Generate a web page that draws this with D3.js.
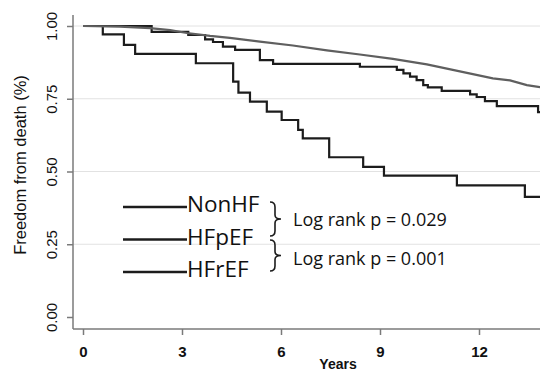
<!DOCTYPE html>
<html>
<head>
<meta charset="utf-8">
<script src="https://cdn.jsdelivr.net/npm/d3@7/dist/d3.min.js"></script>
<style>
  body { margin: 0; background: #fff; }
  svg { display: block; }
</style>
</head>
<body>
<div id="chart"></div>
<script>
// survival curves (years, freedom from death)
const nonhfYears = [0, 1.12, 2.03, 2.64, 3.15, 3.85, 4.45, 5.36, 6.36, 7.39, 8.39, 9.39, 10.42, 11.42, 12.42, 12.94, 13.45, 13.85];
const nonhfSurv  = [1.0, 0.998, 0.993, 0.986, 0.976, 0.966, 0.959, 0.946, 0.933, 0.916, 0.902, 0.887, 0.868, 0.844, 0.820, 0.813, 0.797, 0.790];

const hfpefYears = [0, 2.08, 3.19, 3.70, 3.94, 4.24, 4.61, 5.36, 5.76, 8.39, 9.51, 9.71, 9.91, 10.11, 10.31, 10.45, 10.87, 11.73, 11.93, 12.18, 12.54, 13.79, 13.85];
const hfpefSurv  = [1.0, 0.980, 0.969, 0.954, 0.945, 0.929, 0.918, 0.883, 0.870, 0.860, 0.849, 0.837, 0.826, 0.814, 0.797, 0.789, 0.777, 0.765, 0.756, 0.742, 0.725, 0.704, 0.704];

const hfrefYears = [0, 0.60, 1.24, 1.58, 3.42, 4.55, 4.71, 5.06, 5.57, 6.02, 6.52, 6.66, 7.46, 8.49, 9.12, 11.33, 13.39, 13.85];
const hfrefSurv  = [1.0, 0.971, 0.935, 0.904, 0.872, 0.809, 0.771, 0.740, 0.706, 0.677, 0.643, 0.614, 0.549, 0.516, 0.486, 0.452, 0.413, 0.413];

const xTicks = [0, 3, 6, 9, 12];
const yTicks = [0, 0.25, 0.5, 0.75, 1];
const gridTicks = [0.25, 0.5, 0.75, 1];
const legendNames = ["NonHF", "HFpEF", "HFrEF"];
const pvalues = ["Log rank p = 0.029", "Log rank p = 0.001"];

const width = 540, height = 372;
const axisX = 73, axisY = 329;

const x = d3.scaleLinear().domain([0, 12]).range([83, 479]);
const y = d3.scaleLinear().domain([0, 1]).range([317, 26]);

const svg = d3.select("#chart").append("svg")
    .attr("width", width)
    .attr("height", height);

// light grid
svg.append("g").selectAll("line")
    .data(gridTicks)
  .enter().append("line")
    .attr("x1", axisX).attr("x2", width)
    .attr("y1", d => y(d)).attr("y2", d => y(d))
    .attr("stroke", "#e2e2e2")
    .attr("stroke-width", 1);

// axis spines
svg.append("line")
    .attr("x1", axisX).attr("x2", axisX)
    .attr("y1", 15).attr("y2", axisY)
    .attr("stroke", "#7a7a7a").attr("stroke-width", 1.5);
svg.append("line")
    .attr("x1", axisX).attr("x2", width)
    .attr("y1", axisY).attr("y2", axisY)
    .attr("stroke", "#7a7a7a").attr("stroke-width", 1.5);

// y axis
let yAxis = svg.append("g")
    .attr("transform", "translate(" + axisX + ",0)")
    .call(d3.axisLeft(y).tickValues(yTicks).tickFormat(d3.format(".2f")).tickSize(6).tickPadding(0));
yAxis.select(".domain").remove();
yAxis.selectAll(".tick line").attr("stroke", "#7a7a7a").attr("stroke-width", 1.5);
yAxis.selectAll(".tick text")
    .attr("x", 0).attr("dy", 0)
    .attr("text-anchor", "middle")
    .attr("transform", "translate(-16,0) rotate(-90)")
    .style("font-family", "Liberation Sans, Arial, sans-serif")
    .style("font-size", "15px")
    .attr("fill", "#111");

// x axis
let xAxis = svg.append("g")
    .attr("transform", "translate(0," + axisY + ")")
    .call(d3.axisBottom(x).tickValues(xTicks).tickSize(6).tickPadding(11));
xAxis.select(".domain").remove();
xAxis.selectAll(".tick line").attr("stroke", "#7a7a7a").attr("stroke-width", 1.5);
xAxis.selectAll(".tick text")
    .style("font-family", "Liberation Sans, Arial, sans-serif")
    .style("font-size", "15px")
    .style("font-weight", "bold")
    .attr("fill", "#111");

// axis titles
svg.append("text")
    .attr("transform", "translate(26,165) rotate(-90)")
    .attr("text-anchor", "middle")
    .style("font-family", "Liberation Sans, Arial, sans-serif")
    .style("font-size", "16.5px")
    .attr("fill", "#111")
    .text("Freedom from death (%)");
svg.append("text")
    .attr("x", 338).attr("y", 369)
    .attr("text-anchor", "middle")
    .style("font-family", "Liberation Sans, Arial, sans-serif")
    .style("font-size", "14px")
    .style("font-weight", "bold")
    .attr("fill", "#111")
    .text("Years");

// curves
svg.append("clipPath").attr("id", "plot-clip")
  .append("rect").attr("x", axisX).attr("y", 0).attr("width", width - axisX).attr("height", axisY);

const stepLine = d3.line()
    .x(d => x(d[0]))
    .y(d => y(d[1]))
    .curve(d3.curveStepAfter);
const smoothLine = d3.line()
    .x(d => x(d[0]))
    .y(d => y(d[1]));

const plot = svg.append("g").attr("clip-path", "url(#plot-clip)");

plot.append("path")
    .datum(d3.zip(hfrefYears, hfrefSurv))
    .attr("d", stepLine)
    .attr("fill", "none").attr("stroke", "#1c1c1c").attr("stroke-width", 2.2);
plot.append("path")
    .datum(d3.zip(hfpefYears, hfpefSurv))
    .attr("d", stepLine)
    .attr("fill", "none").attr("stroke", "#1c1c1c").attr("stroke-width", 2.2);
plot.append("path")
    .datum(d3.zip(nonhfYears, nonhfSurv))
    .attr("d", smoothLine)
    .attr("fill", "none").attr("stroke", "#5f5f5f").attr("stroke-width", 2.2);

// legend
const legendY = [207, 239.5, 272];
const legend = svg.append("g");
legend.selectAll("line")
    .data(legendNames)
  .enter().append("line")
    .attr("x1", 123).attr("x2", 187)
    .attr("y1", (d, i) => legendY[i]).attr("y2", (d, i) => legendY[i])
    .attr("stroke", "#1c1c1c").attr("stroke-width", 2.5);
legend.selectAll("text")
    .data(legendNames)
  .enter().append("text")
    .attr("x", 187)
    .attr("y", (d, i) => legendY[i] + 5)
    .style("font-family", "Open Sans, sans-serif")
    .style("font-size", "22.5px")
    .attr("fill", "#111")
    .text(d => d);

// braces
function brace(x0, top, bottom) {
    const mid = (top + bottom) / 2;
    const xm = x0 + 5, xt = x0 + 11;
    return "M" + x0 + "," + top +
        " Q" + xm + "," + top + " " + xm + "," + (top + 5) +
        " L" + xm + "," + (mid - 4) +
        " Q" + xm + "," + mid + " " + xt + "," + mid +
        " Q" + xm + "," + mid + " " + xm + "," + (mid + 4) +
        " L" + xm + "," + (bottom - 5) +
        " Q" + xm + "," + bottom + " " + x0 + "," + bottom;
}
const braceSpans = [[202, 236], [240, 271]];
svg.selectAll(".brace")
    .data(braceSpans)
  .enter().append("path")
    .attr("class", "brace")
    .attr("d", d => brace(270, d[0], d[1]))
    .attr("fill", "none").attr("stroke", "#1c1c1c").attr("stroke-width", 1.6);

svg.selectAll(".pval")
    .data(pvalues)
  .enter().append("text")
    .attr("class", "pval")
    .attr("x", 293)
    .attr("y", (d, i) => [226, 265][i])
    .style("font-family", "Open Sans, sans-serif")
    .style("font-size", "18px")
    .attr("fill", "#111")
    .text(d => d);
</script>
</body>
</html>
